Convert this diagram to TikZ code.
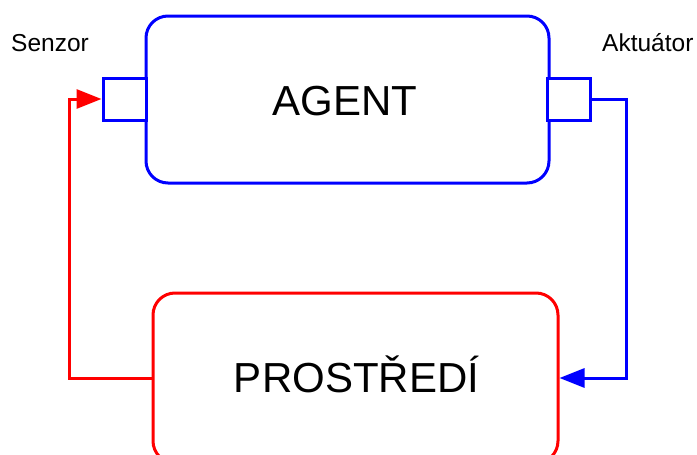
\documentclass[tikz,border=0pt]{standalone}
\usepackage{fontspec}
\setmainfont{Liberation Sans}
\usetikzlibrary{arrows.meta}
\definecolor{pblue}{RGB}{0,0,255}
\definecolor{pred}{RGB}{255,0,0}
\begin{document}
\begin{tikzpicture}[x=1pt,y=-1pt,
  agentbox/.style={draw=pblue,line width=3pt,rounded corners=22pt,inner sep=0pt},
  envbox/.style={draw=pred,line width=3pt,rounded corners=22pt,inner sep=0pt},
  port/.style={draw=pblue,line width=3pt,fill=white,inner sep=0pt,minimum width=43pt,minimum height=42pt},
  bigtext/.style={font=\fontsize{42}{48}\selectfont,inner sep=0pt,anchor=base},
  smalltext/.style={font=\fontsize{24.5}{28}\selectfont,inner sep=0pt,anchor=base west},
  bluearrow/.style={draw=pblue,line width=3pt,-{Triangle[length=25pt,width=19pt]}},
  redarrow/.style={draw=pred,line width=3pt,-{Triangle[length=25pt,width=19pt]}}
]
\useasboundingbox (0,0) rectangle (697,455);
\fill[white] (0,0) rectangle (697,455);
% boxes
\node[agentbox,minimum width=403pt,minimum height=167pt] (agent) at (347.5,99.5) {};
\node[envbox,minimum width=405pt,minimum height=170pt] (env) at (355.5,378) {};
% ports
\node[port] (sen) at (124.5,99) {};
\node[port] (act) at (569,99) {};
% labels
\node[bigtext] (agentlbl) at (345,115) {AGENT};
\node[bigtext] (envlbl) at (356.5,392) {PROSTŘEDÍ};
\node[smalltext] (senlbl) at (11,51.7) {Senzor};
\node[smalltext] (actlbl) at (602,51) {Aktuátor};
% connectors
\draw[bluearrow,line join=miter] (act.east) -- ++(34,0) |- (env.east);
\draw[redarrow,line join=miter] (env.west) -- ++(-82,0) |- (sen.west);
\end{tikzpicture}
\end{document}
